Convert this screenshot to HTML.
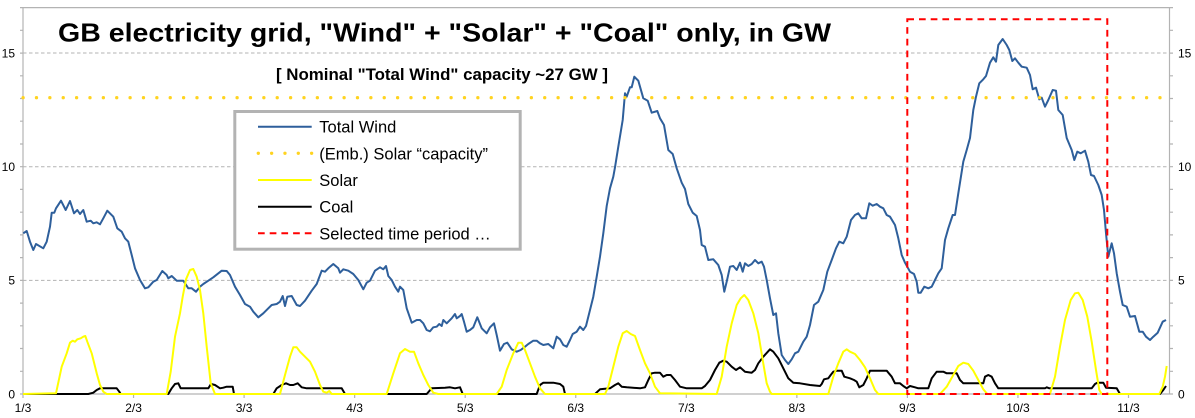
<!DOCTYPE html>
<html><head><meta charset="utf-8"><style>
html,body{margin:0;padding:0;background:#fff;}
svg{display:block;}
text{font-family:"Liberation Sans",Arial,sans-serif;fill:#000;}
</style></head><body>
<svg width="1195" height="418" viewBox="0 0 1195 418" xmlns="http://www.w3.org/2000/svg">
<rect width="1195" height="418" fill="#fff"/>
<!-- gridlines -->
<g stroke="#b3b3b3" stroke-width="1" stroke-dasharray="3.5 2.5">
<line x1="23" y1="280.35" x2="1169.5" y2="280.35"/>
<line x1="23" y1="166.7" x2="1169.5" y2="166.7"/>
<line x1="23" y1="53.05" x2="1169.5" y2="53.05"/>
</g>
<!-- axes -->
<g stroke="#b3b3b3" stroke-width="1.2" fill="none">
<line x1="23" y1="7.6" x2="23" y2="394"/>
<line x1="1169.5" y1="7.6" x2="1169.5" y2="394"/>
<line x1="20" y1="7.6" x2="1173" y2="7.6"/>
<line x1="23" y1="394" x2="1169.5" y2="394"/>
<path d="M20 394H23M20 371.3H23M20 348.5H23M20 325.8H23M20 303.1H23M20 280.4H23M20 257.6H23M20 234.9H23M20 212.2H23M20 189.4H23M20 166.7H23M20 144H23M20 121.2H23M20 98.5H23M20 75.8H23M20 53.1H23M20 30.3H23"/>
<path d="M1169.5 394H1173M1169.5 371.3H1173M1169.5 348.5H1173M1169.5 325.8H1173M1169.5 303.1H1173M1169.5 280.4H1173M1169.5 257.6H1173M1169.5 234.9H1173M1169.5 212.2H1173M1169.5 189.4H1173M1169.5 166.7H1173M1169.5 144H1173M1169.5 121.2H1173M1169.5 98.5H1173M1169.5 75.8H1173M1169.5 53.1H1173M1169.5 30.3H1173"/>
<path d="M23 394V398M133.55 394V398M244.1 394V398M354.65 394V398M465.2 394V398M575.75 394V398M686.3 394V398M796.85 394V398M907.4 394V398M1017.95 394V398M1128.5 394V398"/>
</g>
<!-- y labels -->
<g font-size="12" text-anchor="end">
<text x="15" y="398.3">0</text>
<text x="15" y="284.6">5</text>
<text x="15" y="171">10</text>
<text x="15" y="57.3">15</text>
</g>
<g font-size="12" text-anchor="start">
<text x="1178" y="398.3">0</text>
<text x="1178" y="284.6">5</text>
<text x="1178" y="171">10</text>
<text x="1178" y="57.3">15</text>
</g>
<!-- x labels -->
<g font-size="12" text-anchor="middle">
<text x="23" y="412">1/3</text>
<text x="133.55" y="412">2/3</text>
<text x="244.1" y="412">3/3</text>
<text x="354.65" y="412">4/3</text>
<text x="465.2" y="412">5/3</text>
<text x="575.75" y="412">6/3</text>
<text x="686.3" y="412">7/3</text>
<text x="796.85" y="412">8/3</text>
<text x="907.4" y="412">9/3</text>
<text x="1017.95" y="412">10/3</text>
<text x="1128.5" y="412">11/3</text>
</g>
<!-- wind -->
<polyline fill="none" stroke="#2e5f9b" stroke-width="2" stroke-linejoin="round" points="23.3,233.3 26.7,231 30,241.7 33.3,250 36,244 43.3,248.3 46.7,241.7 50,226.7 51.7,212.7 54.3,212.7 56,208.3 61,200.7 65.7,210 70,201 74,213.3 77.3,210 80,214 83.3,210 86.7,221.7 90.7,220.7 93.3,223.3 96.7,222.3 100,224.3 103.3,218.3 107.3,210.7 113.3,216.7 117.3,228.3 121.7,231.7 125,238.3 128.3,241.7 131.7,255 135,268.3 140,280 145,288.3 148.3,287.3 153.3,281.7 156.7,280 162.3,271 166.7,275 168.3,278.3 171.7,276 176.7,280.7 183.3,280.7 188.3,288.3 191.7,288.3 196,291.7 200,286.7 203.3,284 208.3,280.7 213.3,277.3 221.7,270.7 226.7,271 230,275 235,286.7 240,295 245,304 250,306.7 253.3,311.7 258.3,317.3 263.3,313.3 268.3,308.3 271.7,305 276.7,304 280,301.7 282.7,296 285,306 287.3,296.7 291.7,296 296.7,305 300,306 305,300.7 311.7,290.7 316.7,284 321.7,270.7 325,271.7 328.3,268.3 333.3,264 338.3,268.3 340,272.7 343.3,269.3 348.3,270.7 353.3,274 358.3,280 363.3,289.3 366.7,282.7 370,280.7 375,270.7 380,267.3 383.3,269.3 386,266 388.3,276 391.7,280 395,286.7 398.3,291.7 400,286.7 403.3,290 406.7,308.3 411.7,322.7 416.7,320 420,320 423.3,323.3 426.7,330 430,331.3 433.3,327.3 436.7,326.7 439.3,324 441.7,326 443.3,320 446.7,323.3 451.7,318.3 455,314 456.7,318.3 460,316 461.7,314 464,321.7 466.7,331.7 470,330 473.3,327.3 477.3,317.3 481.7,328.3 486.7,333.3 490,327.3 494,323.3 496.7,335 500,350.7 504,344 507.3,342.7 511.7,349.3 516.7,351.7 520.7,350 525,346.7 528.3,344 533.3,340.7 536.7,340.7 540,343.3 543.3,345 548.3,344 553.3,348.3 556.7,336.7 560,339.3 563.3,345 566.7,346.7 570,340 572.7,334 576.7,331.7 580,326.7 583.3,330 586,326 590,310 593.3,296.7 596.7,276.7 600,256.7 603.3,233.3 606.7,206 610,188.3 613.3,176.7 615,167.3 618.3,146.7 622.7,120 625,93.3 626.7,96.7 630,87.3 631.7,87.3 634.3,76.7 638.3,80.7 643.3,98.3 647.7,100.7 651.7,112.7 657.3,111 660,118.3 664,125 668.3,150 672.7,154 676.7,168.3 681.7,182.7 685,189 688.3,204 692.7,212.7 696.7,216 700,230 701.7,245 705,246.7 708.3,260 713.3,259.3 718.3,265 721.7,275 724.3,291.7 726.7,281.7 730,266.7 733.3,266 736.7,270 740,262.7 742.7,271.7 745,263.3 748.3,266 751.7,264 755,260 758.3,263.3 761.7,261.7 764,266.7 766.7,280 770,298.3 773.3,315 776,313.3 778.3,333.3 781.7,355 785,360 788.3,364 791.7,359.3 795,353.3 798.3,351.7 803.3,341.7 806.7,336.7 810,325 814,305 818.3,301.7 823.3,290 827.3,271.7 831.7,260 836,248.3 839.3,241.7 843.3,243.3 846.7,236.7 851,220 855,215 858.3,213.3 861.7,218.3 866,218.3 869.3,203.3 872.7,205.7 876.7,204 880,206.7 883.3,208.3 886.7,215 890,216.7 895,225 898.3,238.3 901.7,255 905,262.7 910,271.7 914,274 916.7,281.7 918.3,292.7 920.7,292.7 924.3,286.7 928.3,288.3 931.7,286.7 935,280 938.3,273.3 941.7,268.3 945,240 948.3,228.3 952.7,215 955,215 958.3,193.3 963.3,161.7 966.7,150 970,138 973.3,110 976,96.7 979.3,83.3 983.3,79.3 986,76 990,62.7 993.3,57.3 996,61.7 998.3,45 1002.7,39 1006.7,45 1009.3,50 1012.3,61 1015,58.3 1018.3,62.7 1021.7,66.7 1026.7,67.7 1030,75 1032.7,89.3 1036,87.7 1039.3,99.3 1041.7,97.7 1045,106.7 1048.3,100 1052.7,90 1056,90.7 1058.3,110 1062.7,115 1066.7,138 1071.7,150 1074.3,160 1077.3,151.7 1080.7,153.3 1085,150.7 1088.3,161.7 1091,175 1094,176 1098.3,185 1101.7,195 1104,210 1106,233.3 1108.3,256.7 1111.7,243.3 1114,253.3 1116.7,273.3 1120,291.7 1122.7,305 1126.7,306.7 1130,316.7 1135,316 1139.3,331.7 1142.7,331.7 1146,336.7 1150,340 1153.3,336.7 1157.7,332.7 1162.7,321.7 1166,320"/>
<!-- solar capacity dotted -->
<line x1="23.1" y1="97.7" x2="1162" y2="97.7" stroke="#ffd320" stroke-width="3.3" stroke-linecap="round" stroke-dasharray="0.01 13.365"/>
<!-- coal -->
<polyline fill="none" stroke="#000" stroke-width="2" stroke-linejoin="round" points="23,394 88.3,394 93.3,392.7 96.7,390 100,388.3 116.7,388.3 119.3,391.7 120.7,394 168.3,394 171.7,388.3 175,384 178.3,383.3 180.7,388.3 208.3,388.3 211,384 215,385 220,388.3 223.3,387.7 226.7,386.7 232.7,386.7 234,394 273.3,394 276.7,388.3 281.7,385 286,383.3 290,385 293.3,385 297.7,383.3 301.7,387.3 306.7,388.3 341.7,388.3 345,394 426.7,394 431.7,388.3 445,387.7 450,387.3 455,388.3 460,387.3 462.7,394 536.7,394 540,385 543.3,382.7 553.3,382.7 560,384 563.3,386.7 565,394 595,394 600,389.3 610,388.3 615,385 618.3,383.3 621.7,386.7 626.7,387.3 640,388.3 645,387.3 648.3,380 651.7,373.3 655,372.7 660,372.7 663.3,376.7 666.7,375 670.7,375 675,380 680,386.7 686.7,388.3 701.7,388.3 705,386 710,380 715,370 719.3,362.7 723.3,360.7 726.7,361.7 731.7,366.7 736,370 740,367.3 745,371.7 751.7,372.7 755,370 758.3,363.3 763.3,356.7 770,349.3 773.3,351.7 778.3,358.3 783.3,368.3 788.3,378.3 793.3,382.7 800,383.3 810,385 820,386 821.7,384 824,379.3 828.3,378.3 830.7,375 833.3,371.7 837.3,370.7 841.7,370.7 844.3,376.7 850,378.3 854,380 856.7,381.7 859.3,387.3 863.3,385 866.7,378.3 870,370.7 886.7,370.7 891.7,376.7 895,383.3 900,383.3 903.3,386 906.7,388.3 910,386 915,387.3 918.3,388.3 928.3,388.3 931.7,378.3 936.7,371.7 943.3,371.7 946.7,373.3 956.7,373.3 960,380 963.3,383.3 983.3,383.3 985,376.7 988.3,375 991.7,376.7 995,383.3 998.3,388.3 1045,388.3 1046.7,387.3 1049.3,388.3 1091.7,388.3 1095,384 1097.3,382.7 1103.3,382.7 1106,387.7 1116.7,388.3 1120,394 1160,394 1163.3,390 1166,386"/>
<!-- solar -->
<polyline fill="none" stroke="#ffff00" stroke-width="2" stroke-linejoin="round" points="23,394 56,393.3 61.7,366.7 66.7,353.3 70,342.7 72.7,340.7 75,341.7 77.3,339.3 80.7,338.3 83.3,336.7 85.3,336 87.3,341.7 91.7,353.3 96.7,373.3 100,385 103.3,391.7 106.7,394 166.7,394 170.7,371.7 175,336.7 180,313.3 182.7,296.7 186,279.3 190,270 193.3,269 196.7,276.7 200,290 203.3,313.3 206.7,346.7 210.7,383.3 215,394 280,394 285,375 290,356.7 293.3,347.3 296.7,347.3 300,351.7 305,356.7 310,361.7 315,371.7 320,385 323.3,391.7 326.7,392.7 329.3,391 331.7,394 386.7,394 393.3,373.3 400,353.3 405,349 410,351.7 414,351.7 418.3,363.3 423.3,375 428.3,385 433.3,392.7 438.3,394 496.7,394 501.7,386.7 506.7,370 513.3,353.3 518.3,342.7 521.7,342.7 525,350 530,363.3 535,376.7 540,388.3 545,394 605,394 608.3,386.7 613.3,366.7 618.3,346.7 622.7,333.3 626.7,331 630.7,334 635,336 640,350 645,363.3 650,373.3 655,386.7 660,393.3 716.7,394 721.7,376.7 726.7,346.7 731.7,323.3 736.7,305 740.7,298.3 744.3,295 748.3,300 753.3,313.3 758.3,333.3 762.7,360 766.7,383.3 770,391.7 771.7,394 828.3,394 833.3,376.7 838.3,363.3 843.3,351.7 846.7,349.3 850,351.7 855,354 860,360 865,367.3 870,378.3 875,390 878.3,394 940,394 946.7,386.7 953.3,375 958.3,366 963.3,362.7 968.3,364 973.3,370.7 978.3,380 983.3,389.3 987.3,394 1050,394 1055,376.7 1060,346.7 1065,320 1070.7,300 1075,293.3 1078.3,292.7 1082.7,300 1087.3,316.7 1091.7,341.7 1096,370 1099.3,390 1101.7,394 1159.3,394 1162.7,386.7 1165,376.7 1166.7,366"/>
<!-- selected period rectangle -->
<rect x="907.3" y="19.3" width="200" height="374.7" fill="none" stroke="#ff0000" stroke-width="2" stroke-dasharray="6.7 5"/>
<!-- title -->
<text x="58" y="41.7" font-size="26" font-weight="bold" textLength="773" lengthAdjust="spacingAndGlyphs">GB electricity grid, "Wind" + "Solar" + "Coal" only, in GW</text>
<text x="276" y="80" font-size="16.5" font-weight="bold" textLength="332" lengthAdjust="spacingAndGlyphs">[ Nominal "Total Wind" capacity ~27 GW ]</text>
<!-- legend -->
<rect x="234.8" y="111.5" width="285.4" height="137.7" fill="#fff" stroke="#b3b3b3" stroke-width="3"/>
<line x1="258" y1="126.7" x2="311.7" y2="126.7" stroke="#2e5f9b" stroke-width="2"/>
<line x1="258.3" y1="153.3" x2="312" y2="153.3" stroke="#ffd320" stroke-width="3.3" stroke-linecap="round" stroke-dasharray="0.01 13.32"/>
<line x1="258" y1="180" x2="311.7" y2="180" stroke="#ffff00" stroke-width="2"/>
<line x1="258" y1="206.7" x2="311.7" y2="206.7" stroke="#000" stroke-width="2"/>
<line x1="258" y1="233.3" x2="311.7" y2="233.3" stroke="#ff0000" stroke-width="2" stroke-dasharray="6.7 5"/>
<g font-size="16.5">
<text x="319.3" y="132.7">Total Wind</text>
<text x="319.3" y="159.3">(Emb.) Solar “capacity”</text>
<text x="319.3" y="186">Solar</text>
<text x="319.3" y="212.7">Coal</text>
<text x="319.3" y="239.3">Selected time period …</text>
</g>
</svg>
</body></html>
